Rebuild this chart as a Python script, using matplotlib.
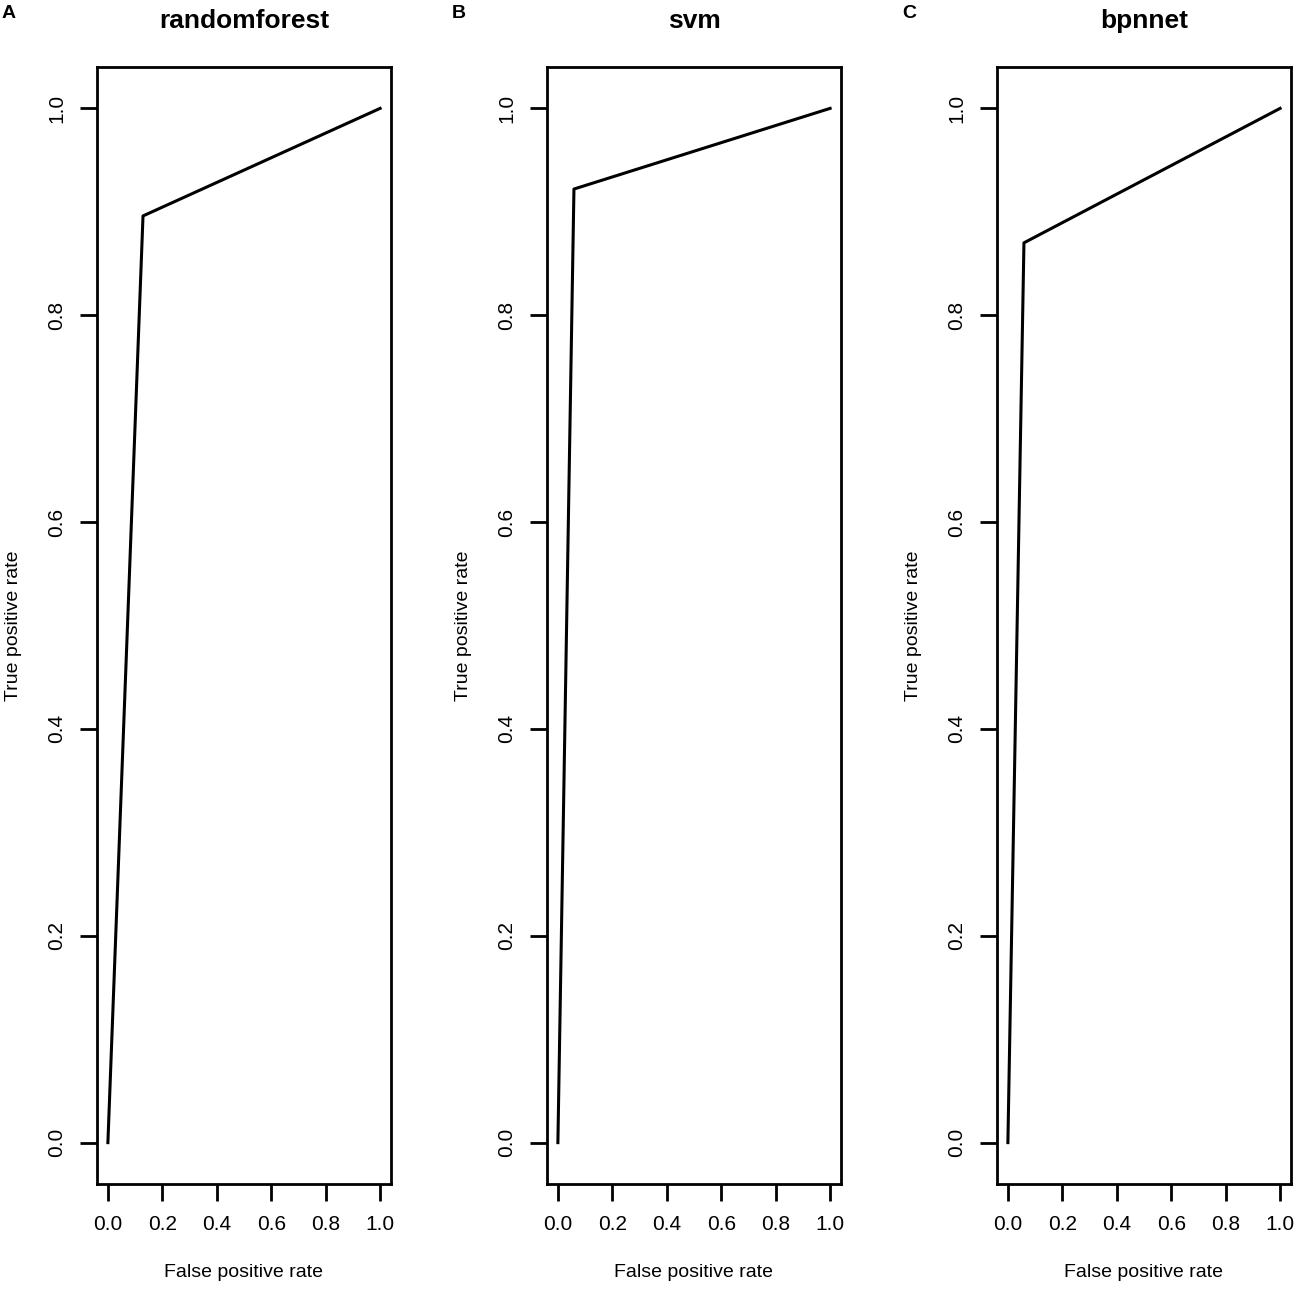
import matplotlib.pyplot as plt

plt.rcParams['font.family'] = ['Liberation Sans', 'DejaVu Sans']

models = ["randomforest", "svm", "bpnnet"]
letters = ["A", "B", "C"]
fpr = [
    [0.0, 0.129, 1.0],
    [0.0, 0.059, 1.0],
    [0.0, 0.059, 1.0],
]
tpr = [
    [0.0, 0.896, 1.0],
    [0.0, 0.922, 1.0],
    [0.0, 0.870, 1.0],
]
ticks = [0.0, 0.2, 0.4, 0.6, 0.8, 1.0]

fig = plt.figure(figsize=(13, 12.93), dpi=100)
lefts = [97, 547, 997]
for i in range(3):
    ax = fig.add_axes([lefts[i] / 1300, 1 - 1184 / 1293, 294 / 1300, 1117 / 1293])
    ax.plot(fpr[i], tpr[i], color='black', lw=2.2)
    ax.set_xlim(-0.04, 1.04)
    ax.set_ylim(-0.04, 1.04)
    ax.set_xticks(ticks)
    ax.set_yticks(ticks)
    ax.set_xticklabels([f"{t:.1f}" for t in ticks], fontsize=15)
    ax.set_yticklabels([f"{t:.1f}" for t in ticks], fontsize=15, rotation=90, va='center')
    ax.tick_params(direction='out', length=12, width=2, pad=10)
    for s in ax.spines.values():
        s.set_linewidth(2)
    ax.set_xlabel("False positive rate", fontsize=14, labelpad=22)
    ax.set_ylabel("True positive rate", fontsize=14, labelpad=18)
    ax.set_title(models[i], fontsize=19, fontweight='bold', pad=28)
    fig.text((lefts[i] - 95) / 1300, 1 - 14 / 1293, letters[i], fontsize=14,
             fontweight='bold', va='center', ha='left')

fig.savefig("out.png", dpi=100)
